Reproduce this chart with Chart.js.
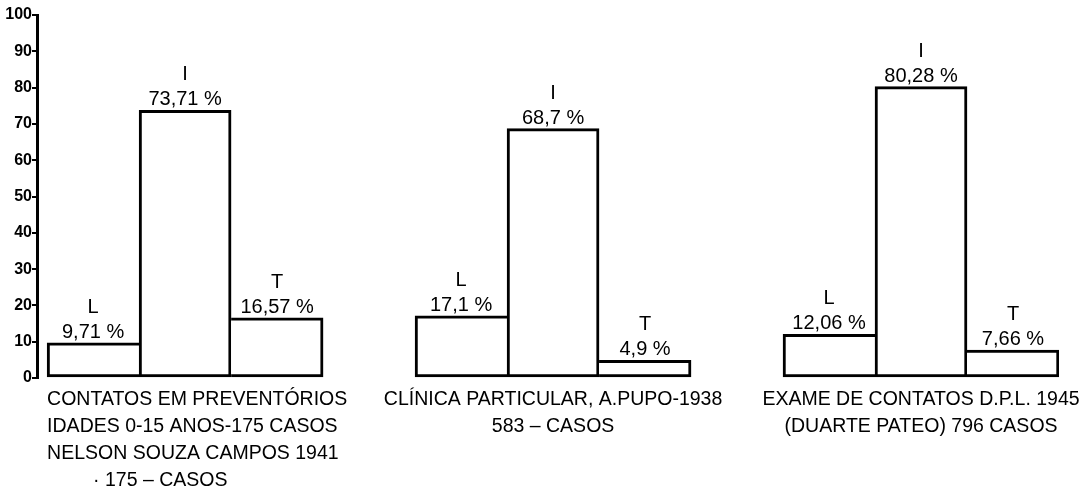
<!DOCTYPE html>
<html>
<head>
<meta charset="utf-8">
<script src="https://cdn.jsdelivr.net/npm/chart.js@4.4.0/dist/chart.umd.min.js"></script>
<style>
	html, body { margin: 0; padding: 0; background: #fff; }
	#wrap { width: 1083px; height: 491px; position: relative; }
</style>
</head>
<body>
<div id="wrap"><canvas id="mycanvas"></canvas></div>
<script>
// forms: L, I, T
var categories = ['L', 'I', 'T'];
var valuesPreventorios = [9.71, 73.71, 16.57];
var valuesClinica = [17.1, 68.7, 4.9];
var valuesDPL = [12.06, 80.28, 7.66];
var yTicks = [0, 10, 20, 30, 40, 50, 60, 70, 80, 90, 100];

var captionsPreventorios = ['CONTATOS EM PREVENTÓRIOS', 'IDADES 0-15 ANOS-175 CASOS', 'NELSON SOUZA CAMPOS 1941', '· 175 – CASOS'];
var captionsClinica = ['CLÍNICA PARTICULAR, A.PUPO-1938', '583 – CASOS'];
var captionsDPL = ['EXAME DE CONTATOS D.P.L. 1945', '(DUARTE PATEO) 796 CASOS'];

var groups = [valuesPreventorios, valuesClinica, valuesDPL];
var captions = [captionsPreventorios, captionsClinica, captionsDPL];
var captionAnchor = [['start', 'start', 'start', 'first'], ['center', 'center'], ['center', 'center']];

var points = [];
var letters = [];
var texts = [];
var borders = [];
for (var g = 0; g < groups.length; g++) {
	for (var i = 0; i < categories.length; i++) {
		points.push({ x: g * 4 + i, y: groups[g][i] });
		letters.push(categories[i]);
		texts.push(String(groups[g][i]).replace('.', ',') + ' %');
		if (i == 0) borders.push({ top: 3, left: 3, bottom: 3, right: 0 });
		else if (i == 2) borders.push({ top: 3, left: 0, bottom: 3, right: 3 });
		else borders.push(3);
	}
}

var barLabels = {
	id: 'barLabels',
	afterDatasetsDraw: function(chart) {
		var ctx = chart.ctx;
		var meta = chart.getDatasetMeta(0);
		ctx.save();
		ctx.fillStyle = '#000';
		ctx.font = '20px "Liberation Sans"';
		ctx.textAlign = 'center';
		ctx.textBaseline = 'alphabetic';
		meta.data.forEach(function(bar, i) {
			ctx.fillText(letters[i], bar.x, bar.y - 30);
			ctx.fillText(texts[i], bar.x, bar.y - 5);
		});
		ctx.restore();
	}
};

var groupCaptions = {
	id: 'groupCaptions',
	afterDraw: function(chart) {
		var ctx = chart.ctx;
		var xs = chart.scales.x;
		var base = chart.chartArea.bottom;
		ctx.save();
		ctx.fillStyle = '#000';
		ctx.font = '19.5px "Liberation Sans"';
		ctx.textBaseline = 'middle';
		for (var g = 0; g < captions.length; g++) {
			for (var k = 0; k < captions[g].length; k++) {
				var a = captionAnchor[g][k];
				var x;
				if (a == 'start') { x = xs.getPixelForValue(g * 4 - 0.5); ctx.textAlign = 'left'; }
				else if (a == 'first') { x = xs.getPixelForValue(g * 4); ctx.textAlign = 'left'; }
				else { x = xs.getPixelForValue(g * 4 + 1); ctx.textAlign = 'center'; }
				ctx.fillText(captions[g][k], x, base + 22 + 27 * k);
			}
		}
		ctx.restore();
	}
};

var ctx = document.getElementById('mycanvas');

var barGraph = new Chart(ctx, {
	type: 'bar',
	data: {
		datasets: [{
			data: points,
			backgroundColor: '#fff',
			borderColor: '#000',
			borderWidth: borders,
			borderSkipped: false,
			barPercentage: 1,
			categoryPercentage: 1
		}]
	},
	options: {
		responsive: true,
		maintainAspectRatio: false,
		animation: false,
		layout: { padding: { left: 0, right: 24, top: 15, bottom: 113 } },
		plugins: { legend: { display: false }, tooltip: { enabled: false } },
		scales: {
			x: {
				type: 'linear',
				min: -0.61,
				max: 10.5,
				offset: false,
				grid: { offset: false },
				display: false,
				afterBuildTicks: function(s) {
					s.ticks = [];
					for (var v = 0; v <= 10; v++) s.ticks.push({ value: v });
				}
			},
			y: {
				min: 0,
				max: 100,
				afterBuildTicks: function(s) {
					s.ticks = yTicks.map(function(v) { return { value: v }; });
				},
				afterFit: function(s) { s.width = 37; },
				grid: { drawOnChartArea: false, drawTicks: true, tickLength: 5, color: '#000', lineWidth: 2 },
				border: { display: true, color: '#000', width: 3 },
				ticks: {
					padding: 0,
					color: '#000',
					font: { family: 'Liberation Sans', size: 16, weight: 'bold' }
				}
			}
		}
	},
	plugins: [barLabels, groupCaptions]
});
</script>
</body>
</html>
